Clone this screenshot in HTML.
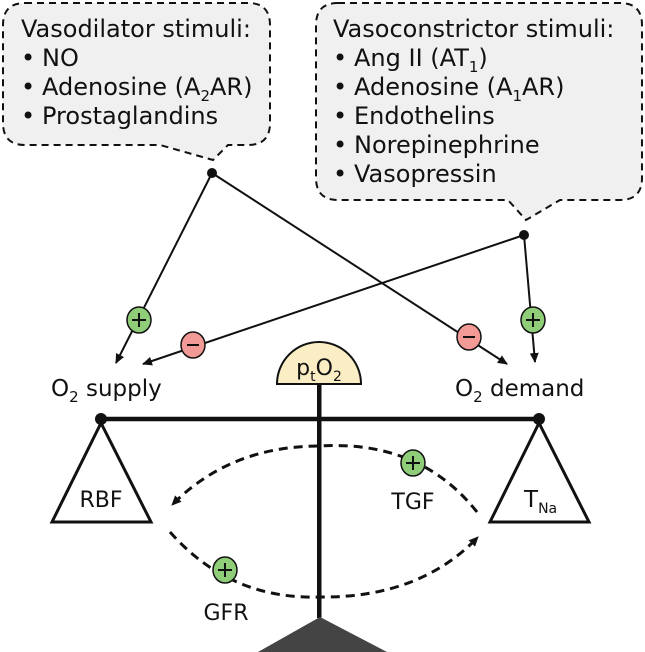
<!DOCTYPE html>
<html><head><style>
html,body{margin:0;padding:0;background:#fff;}
svg{display:block;}
text{font-family:"DejaVu Sans","Liberation Sans",sans-serif;fill:#111;}
</style></head><body>
<svg width="645" height="652" viewBox="0 0 645 652" xmlns="http://www.w3.org/2000/svg">
<defs>
<marker id="ah" markerWidth="12" markerHeight="12" refX="9" refY="6" orient="auto" markerUnits="userSpaceOnUse">
<path d="M0,1.5 L10,6 L0,10.5 Z" fill="#111"/></marker>
</defs>
<path d="M25,3 H248 Q270,3 270,25 V123 Q270,145 248,145 H228 L213,160 L160,145 H25 Q3,145 3,123 V25 Q3,3 25,3 Z" fill="#f0f0f0" stroke="#111" stroke-width="2" stroke-dasharray="7,5"/>
<path d="M338,3 H620 Q642,3 642,25 V178 Q642,200 620,200 H560 L526,220 L508,200 H338 Q316,200 316,178 V25 Q316,3 338,3 Z" fill="#f0f0f0" stroke="#111" stroke-width="2" stroke-dasharray="7,5"/>
<g font-size="24">
<text x="21" y="37">Vasodilator stimuli:</text>
<text x="21" y="66">•</text><text x="42" y="66">NO</text>
<text x="21" y="95">•</text><text x="42" y="95">Adenosine (A<tspan font-size="15" dy="6">2</tspan><tspan dy="-6">AR)</tspan></text>
<text x="21" y="124">•</text><text x="42" y="124">Prostaglandins</text>
<text x="333" y="37">Vasoconstrictor stimuli:</text>
<text x="333" y="66">•</text><text x="354" y="66">Ang II (AT<tspan font-size="15" dy="6">1</tspan><tspan dy="-6">)</tspan></text>
<text x="333" y="95">•</text><text x="354" y="95">Adenosine (A<tspan font-size="15" dy="6">1</tspan><tspan dy="-6">AR)</tspan></text>
<text x="333" y="124">•</text><text x="354" y="124">Endothelins</text>
<text x="333" y="153">•</text><text x="354" y="153">Norepinephrine</text>
<text x="333" y="182">•</text><text x="354" y="182">Vasopressin</text>
</g>
<g stroke="#111" stroke-width="2" fill="none">
<line x1="212" y1="173" x2="116" y2="363" marker-end="url(#ah)"/>
<line x1="212" y1="173" x2="507" y2="364" marker-end="url(#ah)"/>
<line x1="524" y1="235" x2="143" y2="364" marker-end="url(#ah)"/>
<line x1="524" y1="235" x2="535" y2="362" marker-end="url(#ah)"/>
</g>
<circle cx="212" cy="173" r="5" fill="#111"/>
<circle cx="524" cy="235" r="5" fill="#111"/>
<g font-size="23">
<text x="51" y="396">O<tspan font-size="15" dy="6">2</tspan><tspan dy="-6"> supply</tspan></text>
<text x="455" y="396">O<tspan font-size="15" dy="6">2</tspan><tspan dy="-6"> demand</tspan></text>
</g>
<rect x="317" y="384" width="4.5" height="234" fill="#111"/>
<line x1="101" y1="419" x2="539" y2="419" stroke="#111" stroke-width="4.5"/>
<circle cx="101" cy="419" r="6" fill="#111"/>
<circle cx="539" cy="419" r="6" fill="#111"/>
<path d="M101,423 L52,522 L151,522 Z" fill="#fff" stroke="#111" stroke-width="3"/>
<path d="M539,423 L490,522 L589,522 Z" fill="#fff" stroke="#111" stroke-width="3"/>
<path d="M277,384 A42,42 0 0 1 361,384 Z" fill="#fbeec4" stroke="#111" stroke-width="2"/>
<text x="319" y="375" font-size="22" text-anchor="middle">p<tspan font-size="14" dy="6">t</tspan><tspan dy="-6">O</tspan><tspan font-size="14" dy="6">2</tspan></text>
<path d="M320,617 L258,652 L387,652 Z" fill="#444"/>
<text x="101" y="507" font-size="22" text-anchor="middle">RBF</text>
<text x="524" y="507" font-size="23">T<tspan font-size="14" dy="6">Na</tspan></text>
<g stroke="#111" stroke-width="3" fill="none" stroke-dasharray="9,6">
<path d="M477,512 Q420,440 320,446 Q230,446 172,505" marker-end="url(#ah)"/>
<path d="M170,532 Q230,600 320,597 Q420,598 478,537" marker-end="url(#ah)"/>
</g>
<g stroke="#111" stroke-width="1.5">
<ellipse cx="139" cy="320" rx="12" ry="13" fill="#8fcd78"/>
<ellipse cx="533" cy="320" rx="12" ry="13" fill="#8fcd78"/>
<ellipse cx="193" cy="345" rx="12" ry="13" fill="#f29a96"/>
<ellipse cx="469" cy="337" rx="12" ry="13" fill="#f29a96"/>
<ellipse cx="413" cy="463" rx="12" ry="13" fill="#8fcd78"/>
<ellipse cx="225" cy="570" rx="12" ry="13" fill="#8fcd78"/>
</g>
<g stroke="#111" stroke-width="2">
<path d="M132,320 H146 M139,313 V327"/>
<path d="M526,320 H540 M533,313 V327"/>
<path d="M187,345 H199"/>
<path d="M463,337 H475"/>
<path d="M406,463 H420 M413,456 V470"/>
<path d="M218,570 H232 M225,563 V577"/>
</g>
<text x="413" y="509" font-size="22" text-anchor="middle">TGF</text>
<text x="226" y="620" font-size="22" text-anchor="middle">GFR</text>
</svg>
</body></html>
